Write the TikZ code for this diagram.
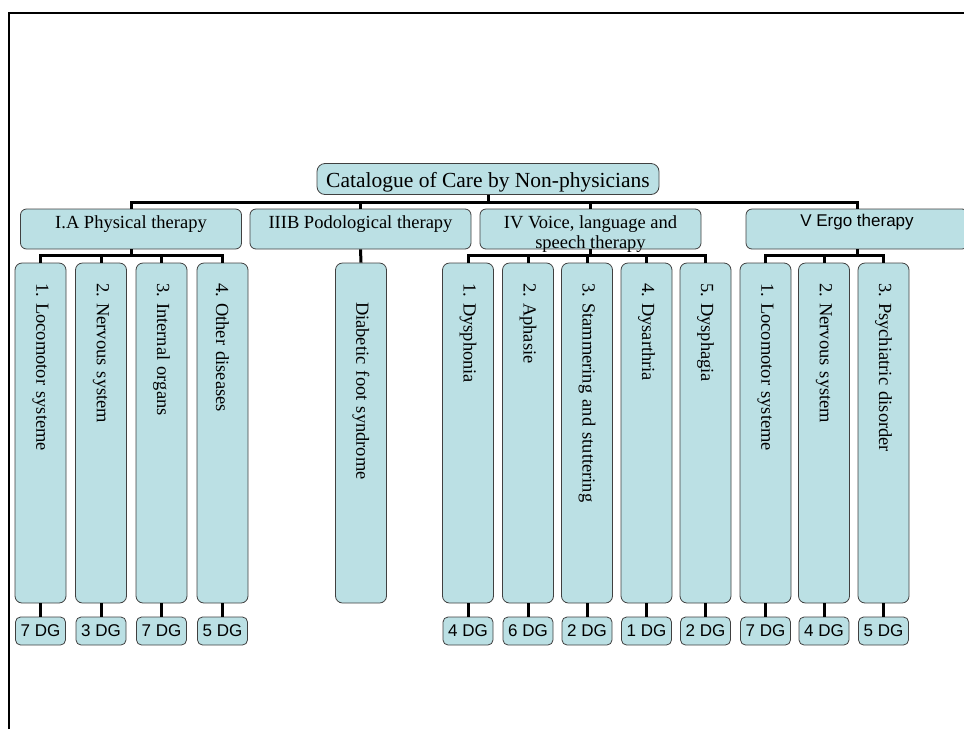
\documentclass[tikz,border=0pt]{standalone}
\usepackage{fontspec}
\setmainfont{Liberation Serif}
\newfontfamily\arialfont{Liberation Sans}
\definecolor{chartblue}{RGB}{187,224,228}
\frenchspacing
\tikzset{
    box/.style={draw=black!75, fill=chartblue, line width=0.8pt, rounded corners=6pt},
    rootbox/.style={box, rounded corners=8pt, minimum width=342pt, inner sep=0pt, text height=24pt, text depth=7pt, font=\fontsize{21.5}{24}\selectfont},
    groupbox/.style={box, minimum width=221pt, inner sep=0pt, text height=19pt, text depth=21pt, font=\fontsize{18.5}{20}\selectfont},
    leafbox/.style={box, rotate=-90, rounded corners=7pt, minimum width=340pt, minimum height=51pt, inner xsep=18pt, inner ysep=0pt, text width=300pt, align=left, font=\fontsize{18.5}{20}\selectfont},
    dgbox/.style={box, rounded corners=5pt, minimum width=50pt, minimum height=28pt, inner sep=0pt, font=\arialfont\fontsize{17}{18}\selectfont},
    link/.style={line width=3pt}
}
\begin{document}
\begin{tikzpicture}[x=1pt,y=-1pt]
                \useasboundingbox (0,0) rectangle (964,729);
                \draw [line width=2pt] (9,729) -- (9,13) -- (966,13);

                \node [rootbox] (root) at (488,179) {Catalogue of Care by Non-physicians};

                \node [groupbox] (ia) at (131,229) {I.A Physical therapy};
                \node [groupbox] (iiib) at (360.5,229) {IIIB Podological therapy};
                \node [groupbox] (iv) at (590.5,229) {\parbox[t]{220pt}{\centering IV Voice, language and\\speech therapy}};
                \node [groupbox, minimum width=222pt, font=\arialfont\fontsize{17}{20}\selectfont, text height=17pt, text depth=23pt] (v) at (857,229) {V Ergo therapy};

                \draw [link] (root.south) -- ++(0,7.5) -| (ia.north);
                \draw [link] (root.south) -- ++(0,7.5) -| (iiib.north);
                \draw [link] (root.south) -- ++(0,7.5) -| (iv.north);
                \draw [link] (root.south) -- ++(0,7.5) -| (v.north);

                \node [leafbox] (ia1) at (40.5,433) {1. Locomotor systeme};
                \node [leafbox] (ia2) at (101,433) {2. Nervous system};
                \node [leafbox] (ia3) at (161.5,433) {3. Internal organs};
                \node [leafbox] (ia4) at (222.5,433) {4. Other diseases};
                \node [leafbox] (iiib1) at (361,433) {\hspace*{19pt}Diabetic foot syndrome};
                \node [leafbox] (iv1) at (468,433) {1. Dysphonia};
                \node [leafbox] (iv2) at (528,433) {2. Aphasie};
                \node [leafbox] (iv3) at (587,433) {3. Stammering and stuttering};
                \node [leafbox] (iv4) at (646.5,433) {4. Dysarthria};
                \node [leafbox] (iv5) at (705.5,433) {5. Dysphagia};
                \node [leafbox] (v1) at (765.5,433) {1. Locomotor systeme};
                \node [leafbox] (v2) at (824,433) {2. Nervous system};
                \node [leafbox] (v3) at (883.5,433) {3. Psychiatric disorder};

                \draw [link] (ia.south) -- ++(0,6) -| (ia1.west);
                \draw [link] (ia.south) -- ++(0,6) -| (ia2.west);
                \draw [link] (ia.south) -- ++(0,6) -| (ia3.west);
                \draw [link] (ia.south) -- ++(0,6) -| (ia4.west);
                \draw [link] (iiib.south) -- (iiib1.west);
                \draw [link] (iv.south) -- ++(0,6) -| (iv1.west);
                \draw [link] (iv.south) -- ++(0,6) -| (iv2.west);
                \draw [link] (iv.south) -- ++(0,6) -| (iv3.west);
                \draw [link] (iv.south) -- ++(0,6) -| (iv4.west);
                \draw [link] (iv.south) -- ++(0,6) -| (iv5.west);
                \draw [link] (v.south) -- ++(0,6) -| (v1.west);
                \draw [link] (v.south) -- ++(0,6) -| (v2.west);
                \draw [link] (v.south) -- ++(0,6) -| (v3.west);

                \node [dgbox] (ia1dg) at (40.5,631) {7 DG};
                \node [dgbox] (ia2dg) at (101,631) {3 DG};
                \node [dgbox] (ia3dg) at (161.5,631) {7 DG};
                \node [dgbox] (ia4dg) at (222.5,631) {5 DG};
                \node [dgbox] (iv1dg) at (468,631) {4 DG};
                \node [dgbox] (iv2dg) at (528,631) {6 DG};
                \node [dgbox] (iv3dg) at (587,631) {2 DG};
                \node [dgbox] (iv4dg) at (646.5,631) {1 DG};
                \node [dgbox] (iv5dg) at (705.5,631) {2 DG};
                \node [dgbox] (v1dg) at (765.5,631) {7 DG};
                \node [dgbox] (v2dg) at (824,631) {4 DG};
                \node [dgbox] (v3dg) at (883.5,631) {5 DG};

                \draw [link] (ia1.east) -- (ia1dg.north);
                \draw [link] (ia2.east) -- (ia2dg.north);
                \draw [link] (ia3.east) -- (ia3dg.north);
                \draw [link] (ia4.east) -- (ia4dg.north);
                \draw [link] (iv1.east) -- (iv1dg.north);
                \draw [link] (iv2.east) -- (iv2dg.north);
                \draw [link] (iv3.east) -- (iv3dg.north);
                \draw [link] (iv4.east) -- (iv4dg.north);
                \draw [link] (iv5.east) -- (iv5dg.north);
                \draw [link] (v1.east) -- (v1dg.north);
                \draw [link] (v2.east) -- (v2dg.north);
                \draw [link] (v3.east) -- (v3dg.north);
            \end{tikzpicture}
\end{document}
